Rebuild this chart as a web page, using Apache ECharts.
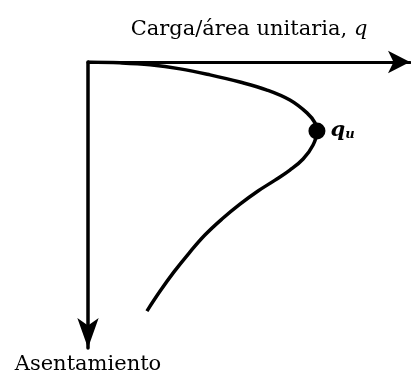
<!DOCTYPE html>
<html>
<head>
<meta charset="utf-8">
<script src="https://cdn.jsdelivr.net/npm/echarts@6/dist/echarts.min.js"></script>
<style>
  html, body { margin: 0; padding: 0; background: #fff; }
  #chart { width: 411px; height: 376px; }
</style>
</head>
<body>
<div id="chart"></div>
<script>
// Load-settlement curve (arbitrary units, 0-100 on both axes)
const loadQ = [0, 9.9, 19.3, 28.6, 37.9, 47.2, 55.6, 62.7, 68.0, 70.5, 71.1,
               69.9, 66.8, 62.7, 58.1, 52.8, 47.2, 41.6, 36.3, 31.4, 26.7, 22.4, 18.3];
const settlement = [0, 0.3, 1.0, 2.4, 4.5, 7.0, 9.8, 13.3, 17.8, 21.3, 24.1,
                    29.0, 33.9, 37.8, 41.3, 45.1, 49.7, 54.9, 60.5, 66.8, 73.4, 80.1, 87.1];

// Ultimate bearing capacity point
const ultimateQ = [71.1];
const ultimateS = [24.1];

const xAxisName = 'Carga/área unitaria, ';
const xAxisSymbol = 'q';
const yAxisName = 'Asentamiento';

const serif = 'DejaVu Serif';

const curve = loadQ.map((q, i) => [q, settlement[i]]);
const peak = ultimateQ.map((q, i) => [q, ultimateS[i]]);

const chart = echarts.init(document.getElementById('chart'), null, { renderer: 'canvas' });

chart.setOption({
  backgroundColor: '#ffffff',
  animation: false,
  grid: { left: 88, top: 62, width: 322, height: 286, containLabel: false },
  xAxis: {
    type: 'value',
    position: 'top',
    min: 0,
    max: 100,
    name: '{n|' + xAxisName + '}{q|' + xAxisSymbol + '}',
    nameLocation: 'middle',
    nameGap: 22,
    nameTextStyle: {
      rich: {
        n: { fontFamily: serif, fontSize: 21, color: '#000' },
        q: { fontFamily: serif, fontSize: 21, fontStyle: 'italic', color: '#000' }
      }
    },
    axisLine: {
      onZero: false,
      lineStyle: { color: '#000', width: 3 },
      symbol: ['none', 'arrow'],
      symbolSize: [17, 22]
    },
    axisTick: { show: false },
    axisLabel: { show: false },
    splitLine: { show: false }
  },
  yAxis: {
    type: 'value',
    inverse: true,
    min: 0,
    max: 100,
    name: yAxisName,
    nameLocation: 'end',
    nameGap: 6,
    nameTextStyle: { fontFamily: serif, fontSize: 21, color: '#000' },
    axisLine: {
      onZero: false,
      lineStyle: { color: '#000', width: 3.5 },
      symbol: ['arrow', 'none'],
      symbolSize: [16, 30]
    },
    axisTick: { show: false },
    axisLabel: { show: false },
    splitLine: { show: false }
  },
  series: [
    {
      type: 'line',
      data: curve,
      smooth: 0.4,
      showSymbol: false,
      lineStyle: { color: '#000', width: 3.5 },
      z: 3
    },
    {
      type: 'scatter',
      data: peak,
      symbol: 'circle',
      symbolSize: 17,
      itemStyle: { color: '#000', opacity: 1 },
      z: 4,
      label: {
        show: true,
        position: 'right',
        distance: 5,
        formatter: '{q|q}{u|u}',
        rich: {
          q: { fontFamily: serif, fontSize: 21, fontStyle: 'italic', fontWeight: 'bold', color: '#000' },
          u: { fontFamily: serif, fontSize: 13, fontStyle: 'italic', fontWeight: 'bold', color: '#000', padding: [8, 0, 0, 0] }
        }
      }
    }
  ]
});
</script>
</body>
</html>
